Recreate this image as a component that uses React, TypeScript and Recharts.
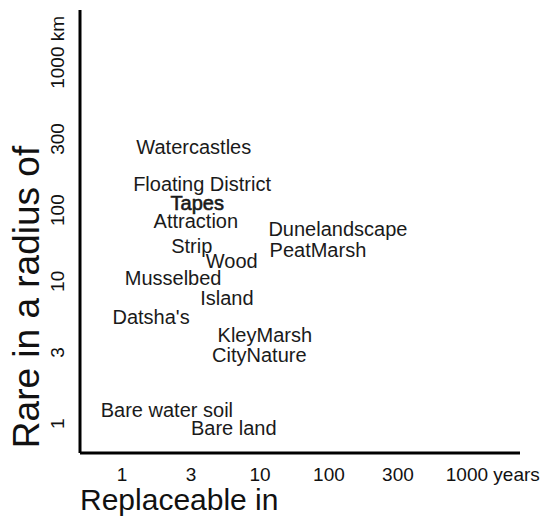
import React from 'react';
import { ScatterChart, Scatter, XAxis, YAxis, Label } from 'recharts';

// Ordinal tick positions (evenly spaced) and their labels
const tickIdx = [0, 1, 2, 3, 4, 5];
const xTickLabels = ['1', '3', '10', '100', '300', '1000 years'];
const yTickLabels = ['1', '3', '10', '100', '300', '1000 km'];

// Habitats, positioned on the ordinal scales
const habitats = [
  'Watercastles', 'Floating District', 'Tapes', 'Attraction', 'Dunelandscape',
  'Strip', 'PeatMarsh', 'Wood', 'Musselbed', 'Island', "Datsha's",
  'KleyMarsh', 'CityNature', 'Bare water soil', 'Bare land',
];
const replaceableIn = [1.04, 1.16, 1.09, 1.07, 3.13, 1.01, 2.84, 1.59, 0.74, 1.52, 0.42, 2.07, 1.99, 0.65, 1.62];
const rareRadius = [3.88, 3.36, 3.10, 2.85, 2.74, 2.50, 2.44, 2.28, 2.05, 1.77, 1.50, 1.24, 0.97, 0.20, -0.06];

const data = habitats.map((name, i) => ({ name, x: replaceableIn[i], y: rareRadius[i] }));

const FONT = '"Liberation Sans", Arial, Helvetica, sans-serif';
const TICK_SIZE = 19;
const LABEL_SIZE = 20;

const splitLabel = (s: string) => {
  const i = s.indexOf(' ');
  return i < 0 ? [s, ''] : [s.slice(0, i), s.slice(i)];
};

const XTick = (props: any) => {
  const { x, y, payload } = props;
  const label = xTickLabels[payload.value] ?? '';
  const [num, unit] = splitLabel(label);
  const half = (num.length * 0.556 * TICK_SIZE) / 2;
  return (
    <text
      x={unit ? x - half : x}
      y={y + 13}
      textAnchor={unit ? 'start' : 'middle'}
      dominantBaseline="central"
      fontFamily={FONT}
      fontSize={TICK_SIZE}
      fill="#111"
    >
      {label}
    </text>
  );
};

const YTick = (props: any) => {
  const { x, y, payload } = props;
  const label = yTickLabels[payload.value] ?? '';
  const [num, unit] = splitLabel(label);
  const half = (num.length * 0.556 * TICK_SIZE) / 2;
  const tx = x - 14;
  const ty = unit ? y + half : y;
  return (
    <text
      x={tx}
      y={ty}
      transform={`rotate(-90 ${tx} ${ty})`}
      textAnchor={unit ? 'start' : 'middle'}
      dominantBaseline="central"
      fontFamily={FONT}
      fontSize={TICK_SIZE}
      fill="#111"
    >
      {label}
    </text>
  );
};

const HabitatLabel = (props: any) => {
  const { cx, cy, payload } = props;
  const heavy = payload.name === 'Tapes';
  return (
    <text
      x={cx}
      y={cy}
      textAnchor="middle"
      dominantBaseline="central"
      fontFamily={FONT}
      fontSize={LABEL_SIZE}
      fill="#1a1a1a"
      stroke={heavy ? '#1a1a1a' : 'none'}
      strokeWidth={heavy ? 0.6 : 0}
    >
      {payload.name}
    </text>
  );
};

export default function App() {
  return (
    <ScatterChart
      width={541}
      height={511}
      margin={{ top: 2, right: 29, left: 0, bottom: 0 }}
      style={{ background: '#fff' }}
    >
      <XAxis
        type="number"
        dataKey="x"
        domain={[-0.61, 5.77]}
        ticks={tickIdx}
        tick={<XTick />}
        tickLine={false}
        axisLine={{ stroke: '#000', strokeWidth: 3 }}
        height={66}
        allowDataOverflow
      >
        <Label
          content={(p: any) => {
            const vb = p.viewBox || { x: 72, y: 445 };
            return (
              <text x={vb.x} y={vb.y + 46} dominantBaseline="central" fontFamily={FONT} fontSize={30} fill="#111">
                Replaceable in
              </text>
            );
          }}
        />
      </XAxis>
      <YAxis
        type="number"
        dataKey="y"
        domain={[-0.41, 5.81]}
        ticks={tickIdx}
        tick={<YTick />}
        tickLine={false}
        axisLine={{ stroke: '#000', strokeWidth: 3 }}
        width={72}
        allowDataOverflow
      >
        <Label
          content={(p: any) => {
            const vb = p.viewBox || { x: 0, y: 2 };
            const tx = vb.x + 18;
            const ty = vb.y + 287;
            return (
              <text
                x={tx}
                y={ty}
                transform={`rotate(-90 ${tx} ${ty})`}
                textAnchor="middle"
                dominantBaseline="central"
                fontFamily={FONT}
                fontSize={37}
                fill="#111"
              >
                Rare in a radius of
              </text>
            );
          }}
        />
      </YAxis>
      <Scatter data={data} shape={<HabitatLabel />} isAnimationActive={false} />
    </ScatterChart>
  );
}
